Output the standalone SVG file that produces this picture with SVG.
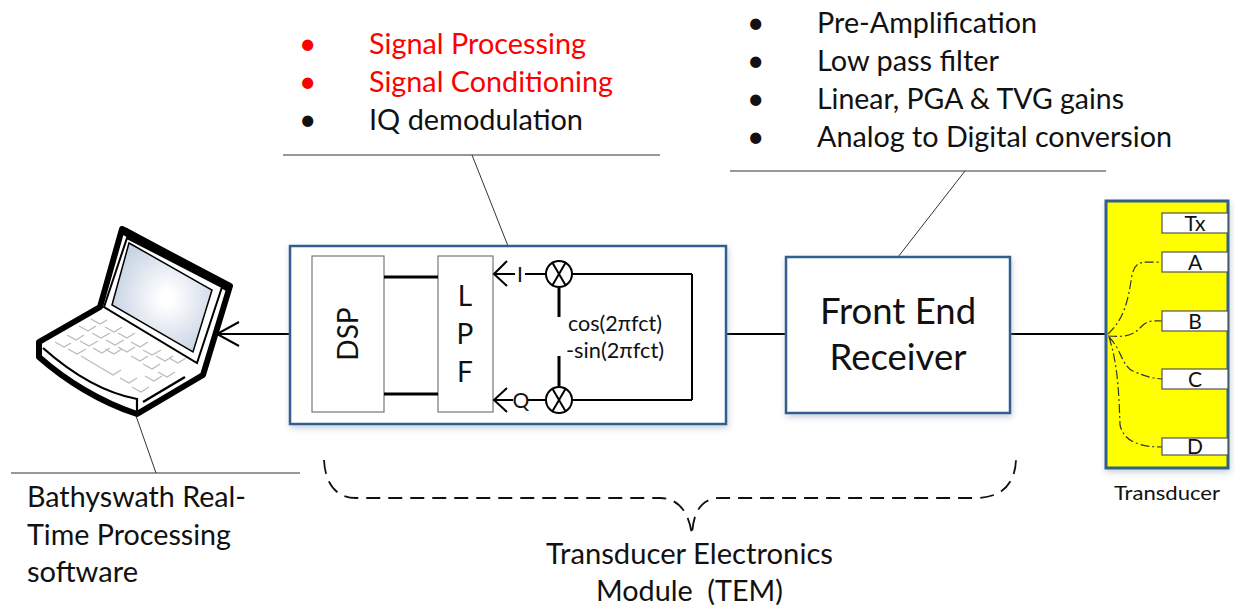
<svg xmlns="http://www.w3.org/2000/svg" width="1237" height="608" viewBox="0 0 1237 608">
<defs>
<radialGradient id="scr" cx="0.55" cy="0.5" r="0.6"><stop offset="0.1" stop-color="#ffffff"/><stop offset="1" stop-color="#c3cfe2"/></radialGradient>
<filter id="sh" x="-5%" y="-5%" width="110%" height="112%"><feDropShadow dx="1" dy="3" stdDeviation="3" flood-color="#8a9ab0" flood-opacity="0.45"/></filter>
</defs>
<style>
text{font-family:Lato,"Open Sans","Liberation Sans",sans-serif;fill:#111}
.t{font-size:28.5px}
.r{fill:#f00}
.b{font-size:36.5px;text-anchor:middle}
.ln{stroke:#333;stroke-width:1;fill:none}
.w{stroke:#000;stroke-width:2;fill:none}
.h{stroke:#000;stroke-width:3;fill:none}
.blue{fill:#fff;stroke:#2f5f8f;stroke-width:2.5}
.grey{fill:#fff;stroke:#777;stroke-width:1.2}
.tab{fill:#fff;stroke:#555;stroke-width:1.2}
.dd{stroke:#333;stroke-width:1.2;fill:none;stroke-dasharray:9 3 2 3}
.key{stroke:#bbb;stroke-width:1.3;fill:none}
.cx{font-size:21px}
.bul{font-size:30px}
.tx{font-size:21px;text-anchor:middle}
.lp{font-size:28px;text-anchor:middle}
</style>

<g id="connectors">
<path class="ln" d="M283 155H660M472 155L508 246M730 171H1106M965 171L898 257M11 473H300M135 413L156 473"/>
<path class="w" d="M290 334H217M239 322L217 334L239 346"/>
<path class="w" d="M692 334H786M1010 334H1107"/>
<path d="M324 460C325 482 335 498 356 498H660C678 498 689 512 692 535C693 514 700 498 720 498H975C1003 498 1015 483 1016 460" fill="none" stroke="#111" stroke-width="1.8" stroke-dasharray="14 8"/>
</g>

<g id="laptop">
<path d="M122 229L230 286L203 375L137 414C100 402 65 380 39 357V342L100 307Z" fill="#fff" stroke="#000" stroke-width="6" stroke-linejoin="round"/>
<path d="M124 231L229 288" stroke="#000" stroke-width="8"/>
<path d="M127 238L222 287L197 363L104 307Z" fill="#fff" stroke="#000" stroke-width="2"/>
<path d="M129 243L212 290L193 352L112 305Z" fill="url(#scr)" stroke="#000" stroke-width="1.5"/>
<path d="M43 348C70 372 100 392 137 399V414" fill="none" stroke="#000" stroke-width="2.2"/>
<path d="M143 402L185 377" stroke="#000" stroke-width="2.5"/>
<path class="key" d="M91 319l9 5 7-4M105 327l9 5 8-5M79 326l9 5 8-5M92 333l9 5 9-5M106 340l9 5 9-5M118 333l9 5 8-5M67 335l9 5 8-5M80 341l9 5 9-5M105 349l9 5 8-5M118 347l9 5 8-5M131 342l9 5 8-5M143 350l9 5 9-5M55 342l9 5 7-4M68 349l9 5 9-5M93 348l9 5 8-5M131 356l9 5 8-5M143 364l9 5 8-5M156 356l9 5 8-5M169 358l9 5 8-5M81 356L113 375l8-5M120 378l9 5 8-5M132 387l9 5 8-5M145 376l9 5 8-5M158 372l9 5 8-5"/>
</g>

<g id="tem">
<rect class="blue" x="290" y="246" width="436" height="178" filter="url(#sh)"/>
</g>

<g id="dsp">
<rect class="grey" x="312" y="256" width="72" height="156"/>
<text transform="translate(358 334) rotate(-90)" class="lp">DSP</text>
</g>
<g id="lpf">
<rect class="grey" x="438" y="256" width="55" height="156"/>
<text x="465" y="306" class="lp">L</text>
<text x="465" y="344" class="lp">P</text>
<text x="465" y="382" class="lp">F</text>
</g>

<g id="mixer-paths">
<path class="h" d="M384 277H438M384 394H438"/>
<path class="h" d="M559 288V317M559 356V388"/>
<path class="w" d="M692 274V400M572 274H692M572 400H692"/>
<path class="w" d="M495 274H515M525 274H546M495 400H513M528 400H546"/>
<path class="w" d="M507 261L494 274L507 286M507 388L494 400L507 412"/>
<text x="520" y="282" class="tx">I</text>
<text x="521" y="408" class="tx">Q</text>
</g>
<g id="mixer-i">
<circle cx="559" cy="274" r="13" fill="#fff" stroke="#000" stroke-width="2"/>
<path class="w" d="M552 262L566 286M566 262L552 286"/>
</g>
<g id="mixer-q">
<circle cx="559" cy="400" r="13" fill="#fff" stroke="#000" stroke-width="2"/>
<path class="w" d="M552 388L566 412M566 388L552 412"/>
</g>
<text class="cx" x="568" y="331" textLength="94" lengthAdjust="spacingAndGlyphs">cos(2πfct)</text>
<text class="cx" x="566" y="358" textLength="98" lengthAdjust="spacingAndGlyphs">-sin(2πfct)</text>

<g id="front-end">
<rect class="blue" x="786" y="257" width="224" height="156" filter="url(#sh)"/>
<text class="b" x="898" y="324">Front End</text>
<text class="b" x="898" y="370">Receiver</text>
</g>

<g id="transducer">
<rect x="1106" y="201" width="122" height="267" fill="#ff0" stroke="#2f5f8f" stroke-width="3" filter="url(#sh)"/>
<path class="dd" d="M1108 334C1125 318 1128 300 1132 275C1136 258 1145 263 1162 262M1108 336C1130 338 1135 333 1142 326C1148 320 1152 321 1162 321M1109 337C1122 350 1122 368 1135 372C1145 376 1150 378 1162 379M1109 337C1118 365 1119 395 1120 425C1124 442 1140 447 1162 447"/>
<rect class="tab" x="1162" y="213" width="66" height="20"/>
<rect class="tab" x="1162" y="252" width="66" height="20"/>
<rect class="tab" x="1162" y="311" width="66" height="20"/>
<rect class="tab" x="1162" y="369" width="66" height="20"/>
<rect class="tab" x="1162" y="438" width="66" height="17"/>
<text x="1195" y="231" class="tx">Tx</text>
<text x="1195" y="270" class="tx">A</text>
<text x="1195" y="329" class="tx">B</text>
<text x="1195" y="387" class="tx">C</text>
<text x="1195" y="454" class="tx">D</text>
<text x="1114" y="500" font-size="20" textLength="106" lengthAdjust="spacingAndGlyphs">Transducer</text>
</g>

<g id="labels-dsp">
<text x="299" y="54" class="bul r">•</text><text x="369" y="54" class="t r" textLength="217" lengthAdjust="spacingAndGlyphs">Signal Processing</text>
<text x="299" y="92" class="bul r">•</text><text x="369" y="92" class="t r" textLength="244" lengthAdjust="spacingAndGlyphs">Signal Conditioning</text>
<text x="299" y="130" class="bul">•</text><text x="369" y="130" class="t" textLength="214" lengthAdjust="spacingAndGlyphs">IQ demodulation</text>
</g>
<g id="labels-fe">
<text x="747" y="33" class="bul">•</text><text x="817" y="33" class="t" textLength="220" lengthAdjust="spacingAndGlyphs">Pre-Amplification</text>
<text x="747" y="71" class="bul">•</text><text x="817" y="71" class="t" textLength="182" lengthAdjust="spacingAndGlyphs">Low pass filter</text>
<text x="747" y="109" class="bul">•</text><text x="817" y="109" class="t" textLength="307" lengthAdjust="spacingAndGlyphs">Linear, PGA &amp; TVG gains</text>
<text x="747" y="147" class="bul">•</text><text x="817" y="147" class="t" textLength="355" lengthAdjust="spacingAndGlyphs">Analog to Digital conversion</text>
</g>
<g id="labels-sw">
<text x="27" y="507" class="t" textLength="219" lengthAdjust="spacingAndGlyphs">Bathyswath Real-</text>
<text x="27" y="545" class="t" textLength="204" lengthAdjust="spacingAndGlyphs">Time Processing</text>
<text x="27" y="582" class="t" textLength="111" lengthAdjust="spacingAndGlyphs">software</text>
</g>
<g id="labels-tem">
<text x="546" y="564" class="t" textLength="287" lengthAdjust="spacingAndGlyphs">Transducer Electronics</text>
<text x="596" y="601" class="t" xml:space="preserve" textLength="187" lengthAdjust="spacingAndGlyphs">Module  (TEM)</text>
</g>
</svg>
